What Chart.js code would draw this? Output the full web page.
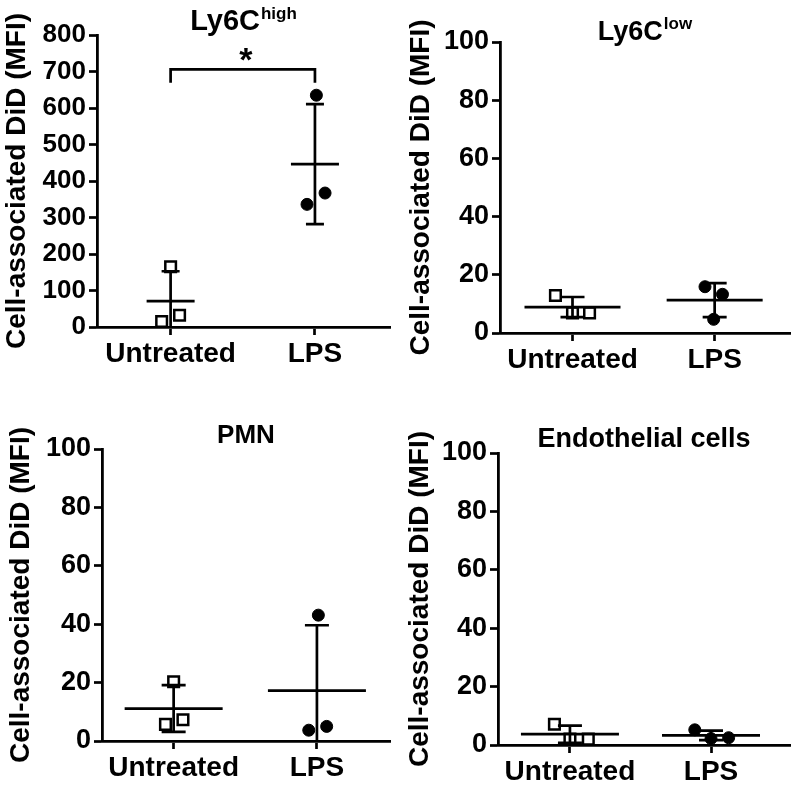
<!DOCTYPE html>
<html>
<head>
<meta charset="utf-8">
<title>Cell-associated DiD</title>
<script src="https://cdn.jsdelivr.net/npm/chart.js@4.4.0/dist/chart.umd.min.js"></script>
<style>
  html, body { margin: 0; padding: 0; background: #fff; }
  #figure { position: relative; width: 800px; height: 787px; }
  #figure canvas { position: absolute; }
</style>
</head>
<body>
<div id="figure">
  <canvas id="panelA" width="400" height="380" style="left:0;top:0"></canvas>
  <canvas id="panelB" width="400" height="380" style="left:400px;top:0"></canvas>
  <canvas id="panelC" width="400" height="387" style="left:0;top:400px"></canvas>
  <canvas id="panelD" width="400" height="387" style="left:400px;top:400px"></canvas>
</div>
<script>
// ---- data ----
const categories = ['Untreated', 'LPS'];
const yAxisTitle = 'Cell-associated DiD (MFI)';
const panelTitles = ['Ly6C', 'Ly6C', 'PMN', 'Endothelial cells'];
const panelSuperscripts = ['high', 'low', '', ''];
const yMaxes = [800, 100, 100, 100];
const ySteps = [100, 20, 20, 20];

// Ly6C high
const ly6cHighUntreated = [165, 32, 15];
const ly6cHighLps = [635, 367, 336];
const ly6cHighUntreatedJitter = [0, 0.062, -0.062];
const ly6cHighLpsJitter = [0.01, 0.07, -0.055];

// Ly6C low
const ly6cLowUntreated = [12.9, 6.9, 6.9];
const ly6cLowLps = [15.9, 13.3, 4.7];
const ly6cLowUntreatedJitter = [-0.12, 0, 0.12];
const ly6cLowLpsJitter = [-0.068, 0.055, -0.007];

// PMN
const pmnUntreated = [20.3, 7.3, 5.7];
const pmnLps = [43.1, 5.0, 3.7];
const pmnUntreatedJitter = [0, 0.065, -0.057];
const pmnLpsJitter = [0.01, 0.068, -0.057];

// Endothelial cells
const endoUntreated = [7.1, 2.0, 2.0];
const endoLps = [5.2, 2.2, 2.5];
const endoUntreatedJitter = [-0.11, 0, 0.13];
const endoLpsJitter = [-0.115, 0, 0.125];

// significance bracket on the Ly6C high panel (values on the y scale)
const sigBracketTop = 706;
const sigBracketLeg = 669;
const sigLabel = '*';

// ---- layout / style ----
const FONT = "'Liberation Sans', Arial, sans-serif";
Chart.defaults.font.family = FONT;
Chart.defaults.color = '#000';

const layouts = [
  { id: 'panelA', left: 97, top: 35, right: 8, xHeight: 53, xMin: 0.49, xMax: 2.52,
    tickSize: 26, titleSize: 29, titleBase: 30, axisPad: 0, meanHalf: 24, capHalf: 9 },
  { id: 'panelB', left: 100, top: 42, right: 0, xHeight: 47, xMin: 0.49, xMax: 2.53,
    tickSize: 27, titleSize: 27, titleBase: 40, axisPad: 4, meanHalf: 48, capHalf: 12 },
  { id: 'panelC', left: 102, top: 49, right: 7, xHeight: 46, xMin: 0.50, xMax: 2.51,
    tickSize: 27, titleSize: 26, titleBase: 43, axisPad: 4, meanHalf: 49, capHalf: 12 },
  { id: 'panelD', left: 98, top: 53, right: 0, xHeight: 42, xMin: 0.49, xMax: 2.56,
    tickSize: 27, titleSize: 27, titleBase: 47, axisPad: 3, meanHalf: 49, capHalf: 12 },
];

const groupSeries = [
  [ly6cHighUntreated, ly6cHighUntreatedJitter, ly6cHighLps, ly6cHighLpsJitter],
  [ly6cLowUntreated, ly6cLowUntreatedJitter, ly6cLowLps, ly6cLowLpsJitter],
  [pmnUntreated, pmnUntreatedJitter, pmnLps, pmnLpsJitter],
  [endoUntreated, endoUntreatedJitter, endoLps, endoLpsJitter],
];

// mean line + SD error bars, computed from each dataset's points
const meanSdPlugin = {
  id: 'meanSd',
  afterDatasetsDraw(chart, args, opts) {
    const { ctx, chartArea: a, scales: { x, y } } = chart;
    ctx.save();
    ctx.beginPath();
    ctx.rect(a.left, a.top, a.right - a.left, a.bottom - a.top);
    ctx.clip();
    ctx.strokeStyle = '#000';
    ctx.lineWidth = 2.7;
    chart.data.datasets.forEach(ds => {
      const vals = ds.data.map(p => p.y);
      const mean = vals.reduce((s, v) => s + v, 0) / vals.length;
      const sd = Math.sqrt(vals.reduce((s, v) => s + (v - mean) ** 2, 0) / (vals.length - 1));
      const px = x.getPixelForValue(ds.groupPos);
      const pm = y.getPixelForValue(mean);
      const pt = y.getPixelForValue(mean + sd);
      const pb = y.getPixelForValue(mean - sd);
      ctx.beginPath();
      ctx.moveTo(px - opts.meanHalf, pm); ctx.lineTo(px + opts.meanHalf, pm);
      ctx.moveTo(px, pt); ctx.lineTo(px, pb);
      ctx.moveTo(px - opts.capHalf, pt); ctx.lineTo(px + opts.capHalf, pt);
      ctx.moveTo(px - opts.capHalf, pb); ctx.lineTo(px + opts.capHalf, pb);
      ctx.stroke();
    });
    ctx.restore();
  }
};

// panel title with optional superscript
const panelTitlePlugin = {
  id: 'panelTitle',
  afterDraw(chart, args, opts) {
    const { ctx, chartArea: a } = chart;
    const mainFont = `bold ${opts.size}px ${FONT}`;
    const supFont = `bold 17px ${FONT}`;
    ctx.save();
    ctx.fillStyle = '#000';
    ctx.textAlign = 'left';
    ctx.textBaseline = 'alphabetic';
    ctx.font = mainFont;
    const w1 = ctx.measureText(opts.text).width;
    ctx.font = supFont;
    const w2 = opts.sup ? ctx.measureText(opts.sup).width + 1 : 0;
    const x0 = (a.left + a.right) / 2 - (w1 + w2) / 2;
    ctx.font = mainFont;
    ctx.fillText(opts.text, x0, opts.baseline);
    if (opts.sup) {
      ctx.font = supFont;
      ctx.fillText(opts.sup, x0 + w1 + 1, opts.baseline - 11);
    }
    ctx.restore();
  }
};

// significance bracket between the two groups
const sigBracketPlugin = {
  id: 'sigBracket',
  afterDatasetsDraw(chart, args, opts) {
    const { ctx, scales: { x, y } } = chart;
    const x1 = x.getPixelForValue(1);
    const x2 = x.getPixelForValue(categories.length);
    const yt = y.getPixelForValue(opts.top);
    const yl = y.getPixelForValue(opts.leg);
    ctx.save();
    ctx.strokeStyle = '#000';
    ctx.lineWidth = 2.7;
    ctx.beginPath();
    ctx.moveTo(x1, yl); ctx.lineTo(x1, yt); ctx.lineTo(x2, yt); ctx.lineTo(x2, yl);
    ctx.stroke();
    ctx.fillStyle = '#000';
    ctx.font = `bold 34px ${FONT}`;
    ctx.textAlign = 'center';
    ctx.textBaseline = 'alphabetic';
    ctx.fillText(opts.text, (x1 + x2) / 2 + 3, yt + 2);
    ctx.restore();
  }
};

function points(values, jitter, pos) {
  return values.map((v, i) => ({ x: pos + jitter[i], y: v }));
}

layouts.forEach((L, p) => {
  const [untr, untrJit, lps, lpsJit] = groupSeries[p];
  const canvas = document.getElementById(L.id);
  const plugins = [meanSdPlugin, panelTitlePlugin];
  if (p === 0) plugins.push(sigBracketPlugin);

  new Chart(canvas, {
    type: 'scatter',
    data: {
      datasets: [
        {
          label: categories[0], groupPos: 1,
          data: points(untr, untrJit, 1),
          pointStyle: 'rect', pointRadius: 7.5,
          backgroundColor: '#fff', borderColor: '#000', borderWidth: 2.5,
          clip: false,
        },
        {
          label: categories[1], groupPos: 2,
          data: points(lps, lpsJit, 2),
          pointStyle: 'circle', pointRadius: 6,
          backgroundColor: '#000', borderColor: '#000', borderWidth: 1,
          clip: false,
        },
      ],
    },
    options: {
      responsive: false,
      animation: false,
      events: [],
      layout: { padding: { left: 0, top: L.top, right: L.right, bottom: 0 } },
      plugins: {
        legend: { display: false },
        tooltip: { enabled: false },
        meanSd: { meanHalf: L.meanHalf, capHalf: L.capHalf },
        panelTitle: { text: panelTitles[p], sup: panelSuperscripts[p], size: L.titleSize, baseline: L.titleBase },
        sigBracket: { top: sigBracketTop, leg: sigBracketLeg, text: sigLabel },
      },
      scales: {
        x: {
          type: 'linear',
          min: L.xMin,
          max: L.xMax,
          afterBuildTicks: s => { s.ticks = categories.map((c, i) => ({ value: i + 1 })); },
          afterFit: s => { s.height = L.xHeight; },
          ticks: {
            callback: v => categories[Math.round(v) - 1] || '',
            font: { size: 28, weight: 'bold' },
            color: '#000',
            padding: 2,
            maxRotation: 0,
            autoSkip: false,
          },
          grid: { display: true, drawOnChartArea: false, drawTicks: true, tickLength: 8,
                  tickWidth: 2.7, tickColor: '#000' },
          border: { display: true, color: '#000', width: 2.8 },
        },
        y: {
          type: 'linear',
          min: 0,
          max: yMaxes[p],
          afterFit: s => { s.width = L.left; },
          ticks: {
            stepSize: ySteps[p],
            font: { size: L.tickSize, weight: 'bold' },
            color: '#000',
            padding: 3,
          },
          title: {
            display: true,
            text: yAxisTitle,
            font: { size: 28, weight: 'bold' },
            color: '#000',
            padding: { top: L.axisPad, bottom: 0 },
          },
          grid: { display: true, drawOnChartArea: false, drawTicks: true, tickLength: 8,
                  tickWidth: 2.7, tickColor: '#000' },
          border: { display: true, color: '#000', width: 2.8 },
        },
      },
    },
    plugins: plugins,
  });
});
</script>
</body>
</html>
